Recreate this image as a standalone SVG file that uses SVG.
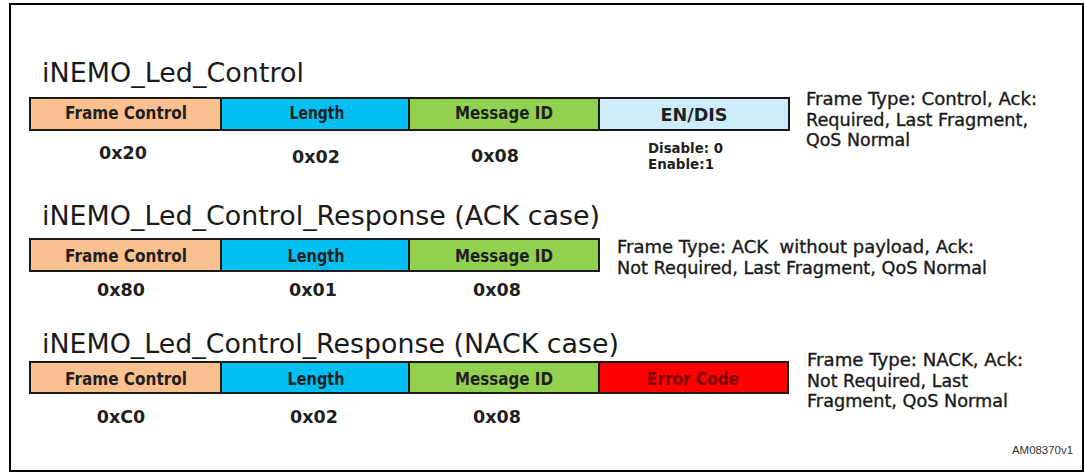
<svg xmlns="http://www.w3.org/2000/svg" width="1084" height="472" viewBox="0 0 1084 472">
<style>
.frame{fill:#ffffff;stroke:#000000;stroke-width:2}
.fld{stroke:#1a1a1a;stroke-width:2}
.fc{fill:#FAC090}
.len{fill:#00BFF2}
.mid{fill:#92D050}
.en{fill:#CDEBFA}
.err{fill:#FF0000}
.title{font-family:"DejaVu Sans",Verdana,sans-serif;font-size:26px;fill:#1a1a1a}
.lbl{font-family:"DejaVu Sans",Verdana,sans-serif;font-weight:bold;font-size:17px;fill:#1f1f1f;text-anchor:middle}
.lblr{font-family:"DejaVu Sans",Verdana,sans-serif;font-weight:bold;font-size:17px;fill:#7a0000;text-anchor:middle}
.hex{font-family:"DejaVu Sans",Verdana,sans-serif;font-weight:bold;font-size:17.5px;fill:#1f1f1f;text-anchor:middle}
.desc{font-family:"DejaVu Sans",Verdana,sans-serif;font-size:17px;fill:#1a1a1a;stroke:#1a1a1a;stroke-width:0.35}
.small{font-family:"DejaVu Sans",Verdana,sans-serif;font-weight:bold;font-size:14px;fill:#1f1f1f}
.id{font-family:"Liberation Sans",Arial,sans-serif;font-size:11.5px;fill:#333333}
</style>
<rect class="frame" x="10" y="4" width="1073" height="467"/>

<!-- Row 1 -->
<g id="row1">
  <text class="title" x="42" y="82" textLength="262" lengthAdjust="spacingAndGlyphs">iNEMO_Led_Control</text>
  <g id="r1-frame-control">
    <rect class="fld fc" x="30" y="98" width="191" height="32"/>
    <text class="lbl" x="126" y="119" textLength="122" lengthAdjust="spacingAndGlyphs">Frame Control</text>
    <text class="hex" x="123" y="159">0x20</text>
  </g>
  <g id="r1-length">
    <rect class="fld len" x="221" y="98" width="188" height="32"/>
    <text class="lbl" x="317" y="119" textLength="55" lengthAdjust="spacingAndGlyphs">Length</text>
    <text class="hex" x="316" y="163">0x02</text>
  </g>
  <g id="r1-message-id">
    <rect class="fld mid" x="409" y="98" width="190" height="32"/>
    <text class="lbl" x="504" y="119" textLength="98" lengthAdjust="spacingAndGlyphs">Message ID</text>
    <text class="hex" x="495" y="162">0x08</text>
  </g>
  <g id="r1-en-dis">
    <rect class="fld en" x="599" y="98" width="190" height="32"/>
    <text class="lbl" x="694" y="121" textLength="67" lengthAdjust="spacingAndGlyphs">EN/DIS</text>
    <text class="small" x="648" y="153" textLength="75" lengthAdjust="spacingAndGlyphs">Disable: 0</text>
    <text class="small" x="648" y="169" textLength="66" lengthAdjust="spacingAndGlyphs">Enable:1</text>
  </g>
  <g id="r1-desc">
    <text class="desc" x="806" y="105" textLength="231" lengthAdjust="spacingAndGlyphs">Frame Type: Control, Ack:</text>
    <text class="desc" x="806" y="126" textLength="222" lengthAdjust="spacingAndGlyphs">Required, Last Fragment,</text>
    <text class="desc" x="806" y="146" textLength="104" lengthAdjust="spacingAndGlyphs">QoS Normal</text>
  </g>
</g>

<!-- Row 2 -->
<g id="row2">
  <text class="title" x="42" y="225" textLength="558" lengthAdjust="spacingAndGlyphs">iNEMO_Led_Control_Response (ACK case)</text>
  <g id="r2-frame-control">
    <rect class="fld fc" x="30" y="239" width="191" height="32"/>
    <text class="lbl" x="126" y="262" textLength="122" lengthAdjust="spacingAndGlyphs">Frame Control</text>
    <text class="hex" x="121" y="296">0x80</text>
  </g>
  <g id="r2-length">
    <rect class="fld len" x="221" y="239" width="188" height="32"/>
    <text class="lbl" x="316" y="262" textLength="57" lengthAdjust="spacingAndGlyphs">Length</text>
    <text class="hex" x="313" y="296">0x01</text>
  </g>
  <g id="r2-message-id">
    <rect class="fld mid" x="409" y="239" width="190" height="32"/>
    <text class="lbl" x="504" y="262" textLength="98" lengthAdjust="spacingAndGlyphs">Message ID</text>
    <text class="hex" x="497" y="296">0x08</text>
  </g>
  <g id="r2-desc">
    <text class="desc" x="617" y="253" textLength="357" lengthAdjust="spacingAndGlyphs" xml:space="preserve">Frame Type: ACK  without payload, Ack:</text>
    <text class="desc" x="617" y="274" textLength="370" lengthAdjust="spacingAndGlyphs">Not Required, Last Fragment, QoS Normal</text>
  </g>
</g>

<!-- Row 3 -->
<g id="row3">
  <text class="title" x="42" y="353" textLength="577" lengthAdjust="spacingAndGlyphs">iNEMO_Led_Control_Response (NACK case)</text>
  <g id="r3-frame-control">
    <rect class="fld fc" x="30" y="362" width="191" height="31"/>
    <text class="lbl" x="126" y="385" textLength="122" lengthAdjust="spacingAndGlyphs">Frame Control</text>
    <text class="hex" x="121" y="423">0xC0</text>
  </g>
  <g id="r3-length">
    <rect class="fld len" x="221" y="362" width="188" height="31"/>
    <text class="lbl" x="316" y="385" textLength="57" lengthAdjust="spacingAndGlyphs">Length</text>
    <text class="hex" x="314" y="423">0x02</text>
  </g>
  <g id="r3-message-id">
    <rect class="fld mid" x="409" y="362" width="190" height="31"/>
    <text class="lbl" x="504" y="385" textLength="98" lengthAdjust="spacingAndGlyphs">Message ID</text>
    <text class="hex" x="497" y="423">0x08</text>
  </g>
  <g id="r3-error-code">
    <rect class="fld err" x="599" y="362" width="189" height="31"/>
    <text class="lblr" x="693" y="385" textLength="92" lengthAdjust="spacingAndGlyphs">Error Code</text>
  </g>
  <g id="r3-desc">
    <text class="desc" x="807" y="366" textLength="216" lengthAdjust="spacingAndGlyphs">Frame Type: NACK, Ack:</text>
    <text class="desc" x="807" y="387" textLength="161" lengthAdjust="spacingAndGlyphs">Not Required, Last</text>
    <text class="desc" x="807" y="407" textLength="201" lengthAdjust="spacingAndGlyphs">Fragment, QoS Normal</text>
  </g>
</g>

<text class="id" x="1012" y="454" textLength="61" lengthAdjust="spacingAndGlyphs">AM08370v1</text>
</svg>
